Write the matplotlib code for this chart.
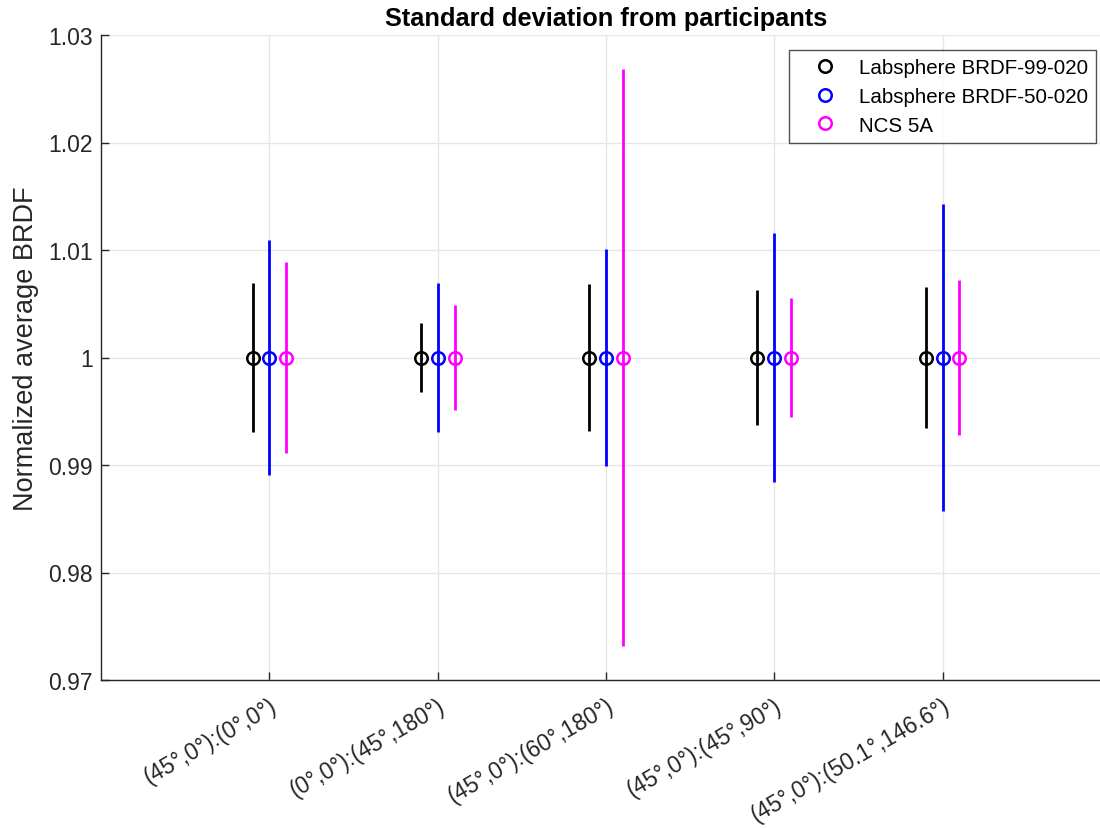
import matplotlib
matplotlib.use("Agg")
import matplotlib.pyplot as plt
from matplotlib.lines import Line2D
import numpy as np

categories = ["(45°,0°):(0°,0°)", "(0°,0°):(45°,180°)", "(45°,0°):(60°,180°)",
              "(45°,0°):(45°,90°)", "(45°,0°):(50.1°,146.6°)"]
series_names = ["Labsphere BRDF-99-020", "Labsphere BRDF-50-020", "NCS 5A"]
means = [[1.0, 1.0, 1.0, 1.0, 1.0],
         [1.0, 1.0, 1.0, 1.0, 1.0],
         [1.0, 1.0, 1.0, 1.0, 1.0]]
std_99 = [0.0069, 0.0032, 0.0068, 0.0063, 0.0066]
std_50 = [0.0109, 0.0069, 0.0101, 0.0116, 0.0143]
std_ncs = [0.0089, 0.0049, 0.0268, 0.0055, 0.0072]
stds = [std_99, std_50, std_ncs]
colors = ["#000000", "#0000ff", "#ff00ff"]
offsets = [-0.1, 0.0, 0.1]
yticks = [0.97, 0.98, 0.99, 1.0, 1.01, 1.02, 1.03]
ytick_labels = ["0.97", "0.98", "0.99", "1", "1.01", "1.02", "1.03"]

plt.rcParams['font.family'] = ['Liberation Sans', 'DejaVu Sans']

fig = plt.figure(figsize=(11, 8.29), dpi=100)
ax = fig.add_axes([101/1100, 1 - 681/829, (1111-101)/1100, (681-36)/829])

x = np.arange(1, len(categories) + 1)
handles = []
for name, m, s, c, o in zip(series_names, means, stds, colors, offsets):
    ax.errorbar(x + o, m, yerr=s, fmt='o', color=c, mfc='none', mec=c,
                ms=9, mew=1.8, elinewidth=2.0, capsize=0)
    handles.append(Line2D([], [], linestyle='none', marker='o', mfc='none',
                          mec=c, ms=9, mew=1.8, label=name))

ax.set_xlim(0, 6)
ax.set_ylim(0.97, 1.03)
ax.set_yticks(yticks)
ax.set_yticklabels(ytick_labels)
ax.set_xticks(x)
ax.set_xticklabels(categories, rotation=30, ha='right', rotation_mode='anchor')
ax.grid(True, color='#e6e6e6', linewidth=1)
ax.set_axisbelow(True)
for sp in ['top', 'right']:
    ax.spines[sp].set_visible(False)
for sp in ['left', 'bottom']:
    ax.spines[sp].set_color('#262626')
    ax.spines[sp].set_linewidth(1.0)
ax.tick_params(direction='in', length=6, width=1, color='#262626',
               labelsize=16.5, labelcolor='#262626', pad=6)
ax.tick_params(axis='x', pad=10)
ax.set_ylabel("Normalized average BRDF", fontsize=19.5, color='#262626')
ax.yaxis.set_label_coords(-0.061, 0.515)
ax.set_title("Standard deviation from participants", fontsize=18.3, fontweight='bold', pad=7)

leg = ax.legend(handles=handles, loc='upper right', bbox_to_anchor=(1096/1100, 1 - 51/829),
                bbox_transform=fig.transFigure, borderaxespad=0, fontsize=14.8, frameon=True,
                fancybox=False, edgecolor='#262626', borderpad=0.4,
                handletextpad=0.3, labelspacing=0.47, handlelength=2.7)
leg.get_frame().set_linewidth(1.0)

fig.savefig("out.png", dpi=100)
